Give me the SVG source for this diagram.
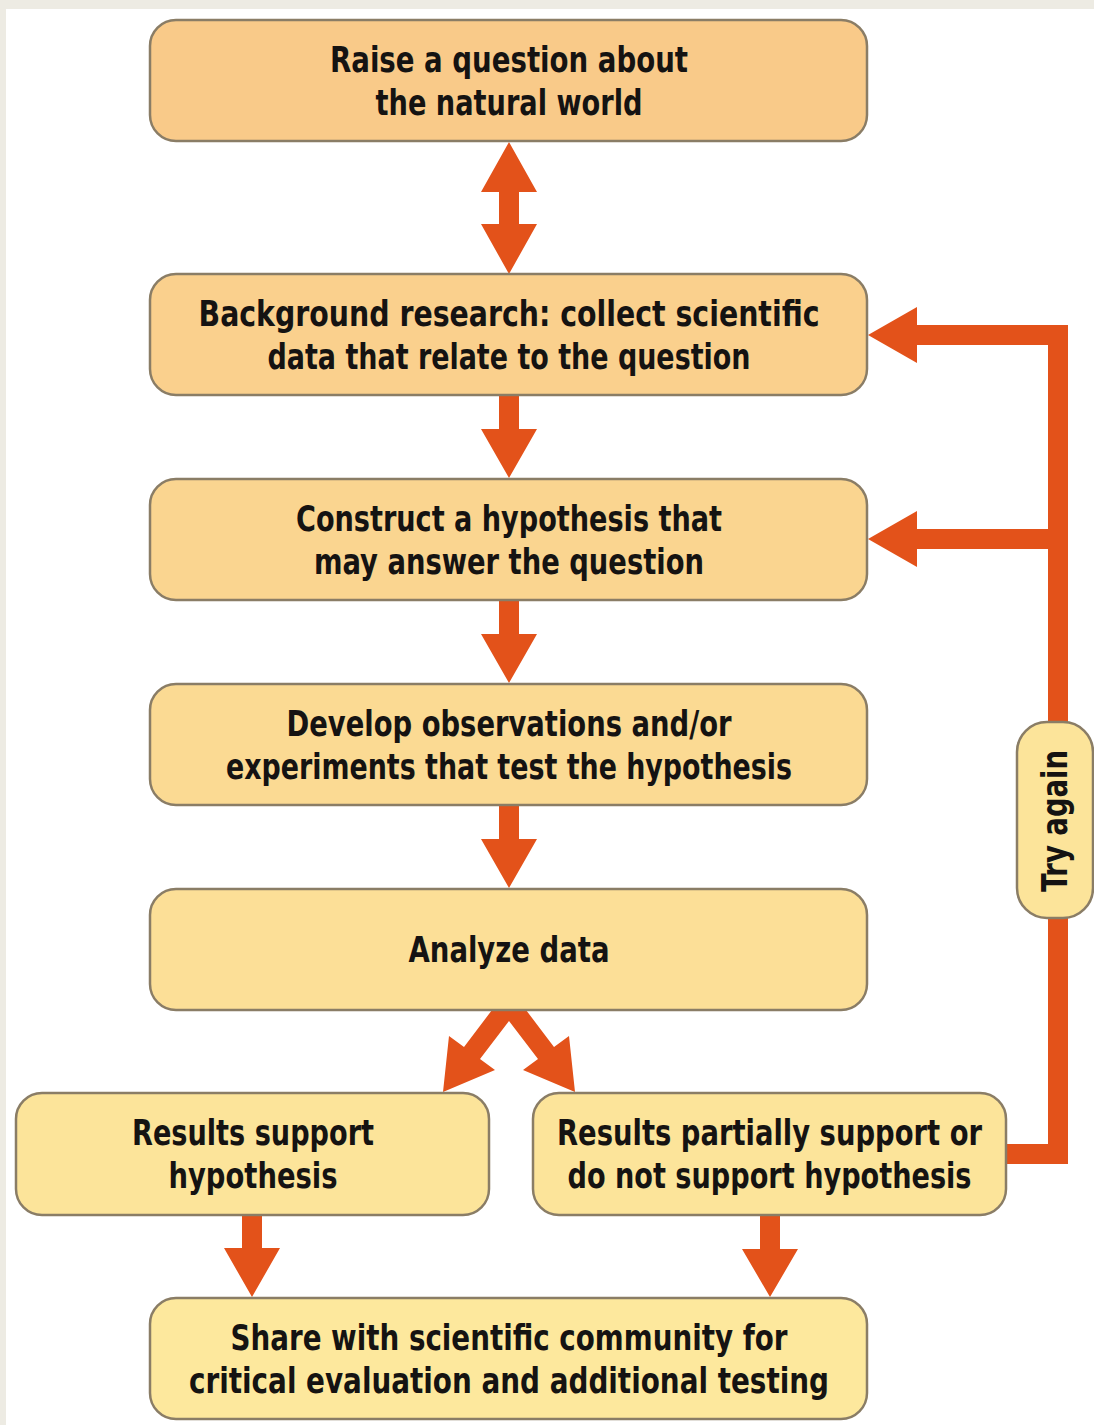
<svg xmlns="http://www.w3.org/2000/svg" width="1094" height="1425" viewBox="0 0 1094 1425">
<style>
.box{stroke:#8a7d66;stroke-width:2.5}
.t{font-family:"Liberation Sans Narrow","DejaVu Sans Condensed","Liberation Sans",Arial,sans-serif;font-weight:bold;font-size:35px;fill:#151312;text-anchor:middle}
.arr{fill:#e3521a}
.ln{fill:none;stroke:#e3521a;stroke-width:20;stroke-linejoin:miter}
</style>
<rect x="0" y="0" width="1094" height="1425" fill="#edebe3"/>
<rect x="6" y="9" width="1088" height="1416" fill="#ffffff"/>

<g id="connectors">
  <polygon class="arr" points="509,142 537,192 519,192 519,224 537,224 509,274 481,224 499,224 499,192 481,192"/>
  <polygon class="arr" points="499,395 519,395 519,429 537,429 509,478 481,429 499,429"/>
  <polygon class="arr" points="499,600 519,600 519,634 537,634 509,683 481,634 499,634"/>
  <polygon class="arr" points="499,805 519,805 519,839 537,839 509,888 481,839 499,839"/>
  <polygon class="arr" points="492,1010 526,1010 554,1047 569,1036 575,1092 523,1070 538,1059 509,1021 480,1059 495,1070 443,1092 449,1036 464,1047"/>
  <polygon class="arr" points="242,1215 262,1215 262,1248 280,1248 252,1297 224,1248 242,1248"/>
  <polygon class="arr" points="760,1215 780,1215 780,1249 798,1249 770,1297 742,1249 760,1249"/>
  <path class="ln" d="M1006,1154 H1058 V335 H912"/>
  <path class="ln" d="M1058,539 H912"/>
  <polygon class="arr" points="868,335 917,307 917,363"/>
  <polygon class="arr" points="868,539 917,511 917,567"/>
</g>

<g id="n1">
  <rect class="box" x="150" y="20" width="717" height="121" rx="26" fill="#f9ca89"/>
  <text class="t" x="509" y="71.5" textLength="358" lengthAdjust="spacingAndGlyphs">Raise a question about</text>
  <text class="t" x="509" y="114.5" textLength="267" lengthAdjust="spacingAndGlyphs">the natural world</text>
</g>
<g id="n2">
  <rect class="box" x="150" y="274" width="717" height="121" rx="26" fill="#fad08d"/>
  <text class="t" x="509" y="325.5" textLength="621" lengthAdjust="spacingAndGlyphs">Background research: collect scientific</text>
  <text class="t" x="509" y="368.5" textLength="483" lengthAdjust="spacingAndGlyphs">data that relate to the question</text>
</g>
<g id="n3">
  <rect class="box" x="150" y="479" width="717" height="121" rx="26" fill="#fad590"/>
  <text class="t" x="509" y="530.5" textLength="426" lengthAdjust="spacingAndGlyphs">Construct a hypothesis that</text>
  <text class="t" x="509" y="573.5" textLength="390" lengthAdjust="spacingAndGlyphs">may answer the question</text>
</g>
<g id="n4">
  <rect class="box" x="150" y="684" width="717" height="121" rx="26" fill="#fbda93"/>
  <text class="t" x="509" y="735.5" textLength="445" lengthAdjust="spacingAndGlyphs">Develop observations and/or</text>
  <text class="t" x="509" y="778.5" textLength="566" lengthAdjust="spacingAndGlyphs">experiments that test the hypothesis</text>
</g>
<g id="n5">
  <rect class="box" x="150" y="889" width="717" height="121" rx="26" fill="#fcdf97"/>
  <text class="t" x="509" y="961.5" textLength="201" lengthAdjust="spacingAndGlyphs">Analyze data</text>
</g>
<g id="n6">
  <rect class="box" x="16" y="1093" width="473" height="122" rx="26" fill="#fce49a"/>
  <text class="t" x="253" y="1145" textLength="242" lengthAdjust="spacingAndGlyphs">Results support</text>
  <text class="t" x="253" y="1188" textLength="169" lengthAdjust="spacingAndGlyphs">hypothesis</text>
</g>
<g id="n7">
  <rect class="box" x="533" y="1093" width="473" height="122" rx="26" fill="#fce49a"/>
  <text class="t" x="769.5" y="1145" textLength="425" lengthAdjust="spacingAndGlyphs">Results partially support or</text>
  <text class="t" x="769.5" y="1188" textLength="404" lengthAdjust="spacingAndGlyphs">do not support hypothesis</text>
</g>
<g id="n8">
  <rect class="box" x="150" y="1298" width="717" height="121" rx="26" fill="#fde89d"/>
  <text class="t" x="509" y="1349.5" textLength="557" lengthAdjust="spacingAndGlyphs">Share with scientific community for</text>
  <text class="t" x="509" y="1392.5" textLength="640" lengthAdjust="spacingAndGlyphs">critical evaluation and additional testing</text>
</g>
<g id="try-again">
  <rect class="box" x="1017" y="722" width="76" height="196" rx="30" fill="#fce49a"/>
  <text class="t" transform="translate(1067,821) rotate(-90)" x="0" y="0" textLength="142" lengthAdjust="spacingAndGlyphs">Try again</text>
</g>
</svg>
